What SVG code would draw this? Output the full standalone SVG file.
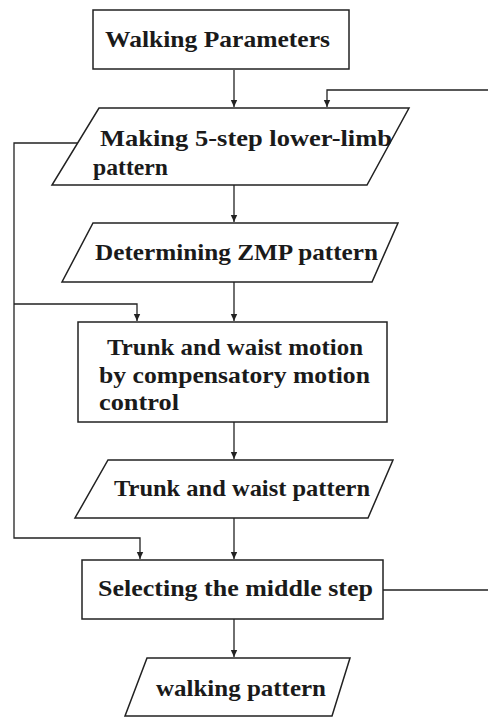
<svg xmlns="http://www.w3.org/2000/svg" width="488" height="718" viewBox="0 0 488 718">
<style>
.shape{fill:#fff;stroke:#222;stroke-width:1.5}
.conn{fill:none;stroke:#222;stroke-width:1.3}
.lbl{font-family:"Liberation Serif","Times New Roman",serif;font-weight:bold;font-size:23px;fill:#1a1a1a}
</style>
<defs>
<marker id="arr" markerUnits="userSpaceOnUse" markerWidth="8" markerHeight="8" refX="7" refY="4" orient="auto">
<path d="M0,0.8 L7,4 L0,7.2 z" fill="#222"/>
</marker>
</defs>
<rect width="488" height="718" fill="#fff"/>
<g id="connectors">
<path class="conn" d="M234,70 V107" marker-end="url(#arr)"/>
<path class="conn" d="M383,590 H492 V90 H327 V107" marker-end="url(#arr)"/>
<path class="conn" d="M234,185 V222" marker-end="url(#arr)"/>
<path class="conn" d="M78,143 H14 V538 H140 V559" marker-end="url(#arr)"/>
<path class="conn" d="M14,304 H137 V321" marker-end="url(#arr)"/>
<path class="conn" d="M234,282 V321" marker-end="url(#arr)"/>
<path class="conn" d="M234,422 V459" marker-end="url(#arr)"/>
<path class="conn" d="M234,518 V559" marker-end="url(#arr)"/>
<path class="conn" d="M234,619 V657" marker-end="url(#arr)"/>
</g>
<g id="walking-parameters">
<rect class="shape" x="93" y="10" width="256" height="59"/>
<text class="lbl" x="105" y="47" textLength="225" lengthAdjust="spacingAndGlyphs">Walking Parameters</text>
</g>
<g id="making-5-step">
<polygon class="shape" points="99,108 409,108 367,185 52,185"/>
<text class="lbl" x="100" y="146" textLength="292" lengthAdjust="spacingAndGlyphs">Making 5-step lower-limb</text>
<text class="lbl" x="93" y="175" textLength="75" lengthAdjust="spacingAndGlyphs">pattern</text>
</g>
<g id="determining-zmp">
<polygon class="shape" points="93,223 398,223 372,282 62,282"/>
<text class="lbl" x="95" y="260" textLength="283" lengthAdjust="spacingAndGlyphs">Determining ZMP pattern</text>
</g>
<g id="trunk-waist-motion">
<rect class="shape" x="78" y="322" width="309" height="100"/>
<text class="lbl" x="107" y="355" textLength="256" lengthAdjust="spacingAndGlyphs">Trunk and waist motion</text>
<text class="lbl" x="99" y="383" textLength="271" lengthAdjust="spacingAndGlyphs">by compensatory motion</text>
<text class="lbl" x="99" y="410" textLength="80" lengthAdjust="spacingAndGlyphs">control</text>
</g>
<g id="trunk-waist-pattern">
<polygon class="shape" points="108,460 393,460 368,518 75,518"/>
<text class="lbl" x="114" y="496" textLength="256" lengthAdjust="spacingAndGlyphs">Trunk and waist pattern</text>
</g>
<g id="selecting-middle-step">
<rect class="shape" x="82" y="560" width="301" height="59"/>
<text class="lbl" x="98" y="596" textLength="275" lengthAdjust="spacingAndGlyphs">Selecting the middle step</text>
</g>
<g id="walking-pattern">
<polygon class="shape" points="147,658 350,658 332,716 125,716"/>
<text class="lbl" x="156" y="696" textLength="170" lengthAdjust="spacingAndGlyphs">walking pattern</text>
</g>
</svg>
